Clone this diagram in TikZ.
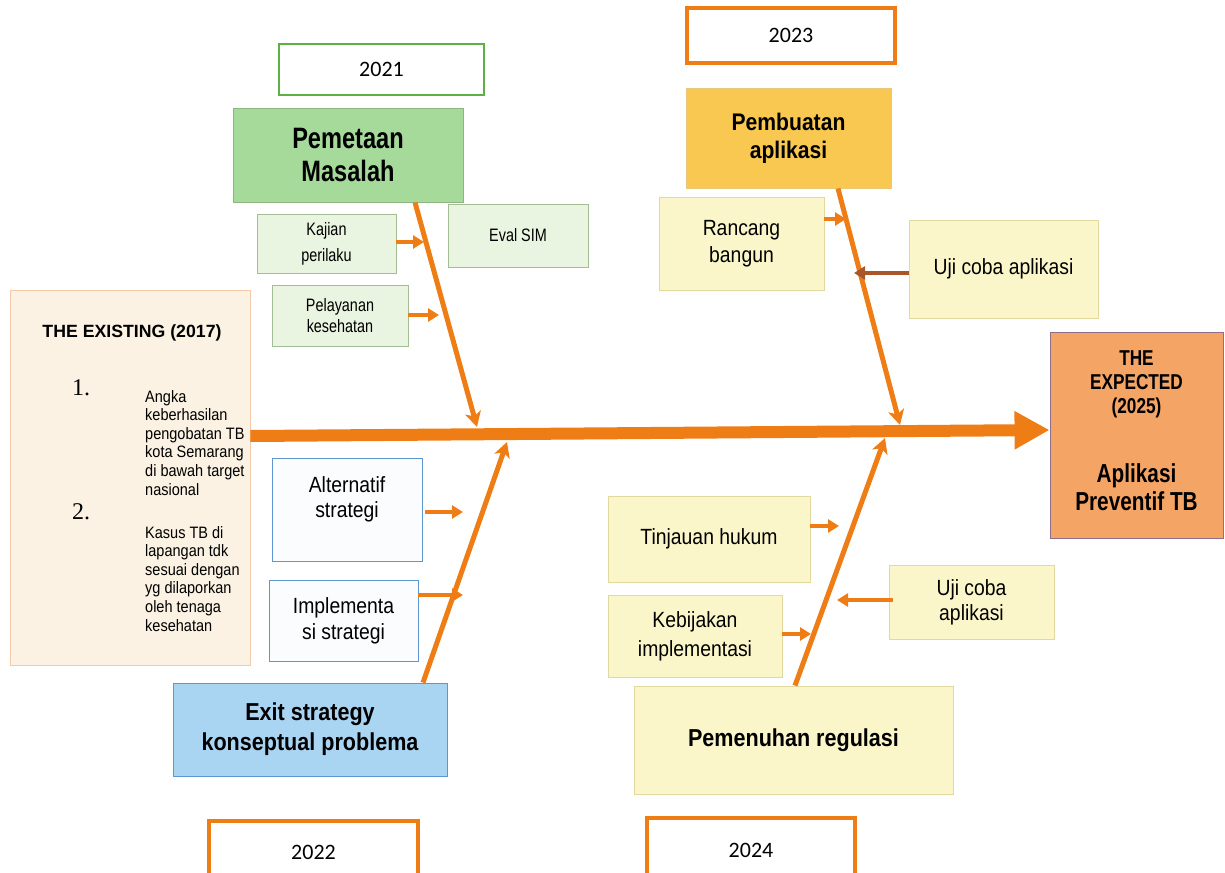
\documentclass[tikz,border=0pt]{standalone}
\usepackage{fontspec}
\setmainfont{Liberation Sans}
\newfontfamily\narA[FakeStretch=0.88]{Liberation Sans}
\newfontfamily\narB[FakeStretch=0.8]{Liberation Sans}
\newfontfamily\yearfont{Carlito}
\newfontfamily\numfont{Liberation Serif}
\usetikzlibrary{arrows.meta}
\newcommand\fs[2]{\fontsize{#1}{#2}\selectfont}
\definecolor{orng}{HTML}{EF7D16}
\definecolor{yrgreen}{HTML}{5DB043}
\definecolor{pemfill}{HTML}{A6DA9A}
\definecolor{pemdraw}{HTML}{8DB584}
\definecolor{ltgreen}{HTML}{EAF5E1}
\definecolor{ltgreendraw}{HTML}{A3BE94}
\definecolor{existfill}{HTML}{FBF2E3}
\definecolor{existdraw}{HTML}{F3CBAA}
\definecolor{expfill}{HTML}{F4A464}
\definecolor{expdraw}{HTML}{8E6E8A}
\definecolor{goldfill}{HTML}{F8C850}
\definecolor{golddraw}{HTML}{E9C77A}
\definecolor{ltyel}{HTML}{FBF6C9}
\definecolor{ltyeldraw}{HTML}{E2D9A0}
\definecolor{bluedraw}{HTML}{5E97CF}
\definecolor{bluefill}{HTML}{FAFCFE}
\definecolor{exitfill}{HTML}{A9D4F2}
\definecolor{brownarr}{HTML}{A9562A}
\tikzset{
  box/.style={draw, line width=0.9pt, inner sep=0pt, align=center, anchor=center},
  yearbox/.style={box, fill=white, line width=4pt, draw=orng, font=\yearfont\fs{22}{24}},
  greenbox/.style={box, fill=ltgreen, draw=ltgreendraw, font=\narB\fs{18}{24}},
  yelbox/.style={box, fill=ltyel, draw=ltyeldraw, font=\narA\fs{22}{27}},
  bluebox/.style={box, fill=bluefill, draw=bluedraw, font=\narA\fs{22}{26}},
  bone/.style={draw=orng, line width=5pt, -{Stealth[length=15pt,width=16pt,inset=4pt]}},
  twig/.style={draw=orng, line width=4pt, -{Triangle[length=11pt,width=13pt]}},
  listtext/.style={font=\narA\fs{16.5}{18.6}, align=left, anchor=north west, inner sep=0pt},
  listnum/.style={font=\numfont\fs{24}{24}, anchor=base west, inner sep=0pt},
}
\begin{document}
\begin{tikzpicture}[x=1pt,y=-1pt]
\useasboundingbox (0,0) rectangle (1225,872);
\clip (0,0) rectangle (1225,872);
% year boxes
\node[yearbox, draw=yrgreen, line width=2.5pt, minimum width=205pt, minimum height=51pt] (y2021) at (381.5,69.5) {2021};
\node[yearbox, minimum width=208pt, minimum height=55pt] (y2023) at (791,35.5) {2023};
\node[yearbox, minimum width=209pt, minimum height=62pt] (y2022) at (313.5,852) {2022};
\node[yearbox, minimum width=208pt, minimum height=64pt] (y2024) at (751,850) {2024};
% main category boxes
\node[box, fill=pemfill, draw=pemdraw, minimum width=230pt, minimum height=94pt, font=\narB\bfseries\fs{29.5}{33}] (pem) at (348,155) {Pemetaan\\Masalah};
\node[box, fill=goldfill, draw=golddraw, minimum width=205pt, minimum height=100pt, font=\narA\bfseries\fs{24}{28}] (pemb) at (788.5,138) {Pembuatan\\aplikasi};
\node[box, fill=exitfill, draw=bluedraw, minimum width=274pt, minimum height=93pt, font=\narA\bfseries\fs{24.5}{30}] (exit) at (310,729.5) {Exit strategy\\konseptual problema};
\node[box, fill=ltyel, draw=ltyeldraw, minimum width=319pt, minimum height=108pt, font=\narA\bfseries\fs{24.5}{28}] (pemn) at (793.5,740) {Pemenuhan regulasi};
% sub boxes
\node[greenbox, minimum width=139pt, minimum height=59pt, font=\narB\fs{18}{26}] (kaj) at (326.5,243.5) {Kajian\\perilaku};
\node[greenbox, minimum width=140pt, minimum height=63pt] (eval) at (518,235.5) {Eval SIM};
\node[greenbox, minimum width=136pt, minimum height=61pt, font=\narB\fs{18}{20.5}] (pel) at (340,315.5) {Pelayanan\\kesehatan};
\node[yelbox, minimum width=165pt, minimum height=93pt] (ranc) at (741.5,243.5) {Rancang\\bangun};
\node[yelbox, minimum width=189pt, minimum height=98pt] (uji1) at (1003.5,269) {Uji coba aplikasi};
\node[yelbox, minimum width=202pt, minimum height=86pt] (tinj) at (709,539) {Tinjauan hukum};
\node[yelbox, minimum width=174pt, minimum height=82pt, font=\narA\fs{22}{29}] (kebi) at (695,636) {Kebijakan\\implementasi};
\node[yelbox, minimum width=165pt, minimum height=74pt, font=\narA\fs{22}{25}] (uji2) at (971.5,602) {Uji coba\\aplikasi};
\node[bluebox, minimum width=150pt, minimum height=103pt] (alt) at (347,509.5) {};
\node[font=\narA\fs{22}{25}, align=center] (altt) at (347,499.5) {Alternatif\\strategi};
\node[bluebox, minimum width=149pt, minimum height=81pt] (imp) at (343.5,620.5) {Implementa\\si strategi};
% existing
\node[box, fill=existfill, draw=existdraw, minimum width=240pt, minimum height=375pt] (exist) at (130,477.5) {};
\node[font=\bfseries\fs{17.7}{20}] (exh) at (132,333) {THE EXISTING (2017)};
\node[listnum] (n1) at (72,395) {1.};
\node[listnum] (n2) at (72,519) {2.};
\node[listtext] (it1) at (145,390) {Angka\\keberhasilan\\pengobatan TB\\kota Semarang\\di bawah target\\nasional};
\node[listtext] (it2) at (145,526) {Kasus TB di\\lapangan tdk\\sesuai dengan\\yg dilaporkan\\oleh tenaga\\kesehatan};
% expected
\node[box, fill=expfill, draw=expdraw, minimum width=173pt, minimum height=206pt] (expd) at (1136.5,435) {};
\node[font=\narB\bfseries\fs{21.5}{24}, align=center] (expt) at (1136.5,384) {THE\\EXPECTED\\(2025)};
\node[font=\narB\bfseries\fs{26}{28.5}, align=center] (expb) at (1136.5,487) {Aplikasi\\Preventif TB};
% spine
\draw[draw=orng, line width=12pt, -{Triangle[length=35pt,width=36pt]}] (exist.east |- 0,436) -- (expd.west |- 0,430);
% bones
\coordinate (t1) at (477,427);
\coordinate (t2) at (507,442);
\coordinate (t3) at (900,425);
\coordinate (t4) at (885,438);
\draw[bone] (pem.south -| 415,0) -- (t1);
\draw[bone] (exit.north -| 423,0) -- (t2);
\draw[bone] (pemb.south -| 838,0) -- (t3);
\draw[bone] (pemn.north -| 795,0) -- (t4);
% twigs
\coordinate (k1) at (424,242);
\coordinate (k2) at (439,315);
\coordinate (k3) at (463,512);
\coordinate (k4) at (463,595);
\coordinate (k5) at (846,219);
\coordinate (k6) at (854,273);
\coordinate (k7) at (839,526);
\coordinate (k8) at (811,634);
\coordinate (k9) at (837,600);
\draw[twig] (kaj.east |- 0,242) -- (k1);
\draw[twig] (pel.east |- 0,315) -- (k2);
\draw[twig] ([xshift=3pt]alt.east |- 0,512) -- (k3);
\draw[twig] (imp.east |- 0,595) -- (k4);
\draw[twig] (ranc.east |- 0,219) -- (k5);
\draw[twig, draw=brownarr] (uji1.west |- 0,273) -- (k6);
\draw[twig] (tinj.east |- 0,526) -- (k7);
\draw[twig] (kebi.east |- 0,634) -- (k8);
\draw[twig] ([xshift=4pt]uji2.west |- 0,600) -- (k9);
\end{tikzpicture}
\end{document}
